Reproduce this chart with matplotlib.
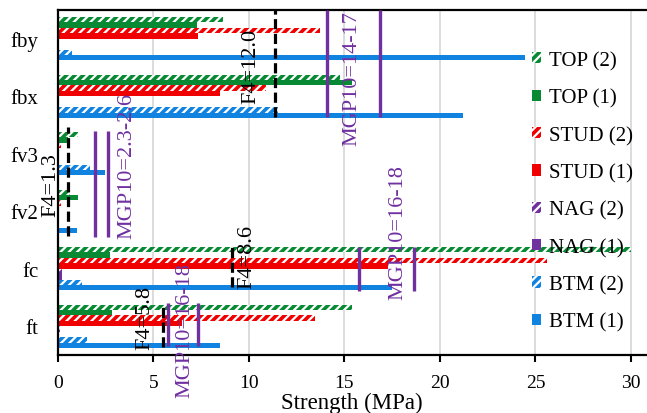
import numpy as np
import matplotlib
matplotlib.use("Agg")
import matplotlib.pyplot as plt

plt.rcParams['font.family'] = ['Liberation Serif', 'DejaVu Serif']
plt.rcParams['hatch.linewidth'] = 2.6

# ---------------- data ----------------
categories = ['ft', 'fc', 'fv2', 'fv3', 'fbx', 'fby']   # bottom -> top

btm1 = [8.49, 17.48, 1.02, 2.45, 21.2, 24.45]
btm2 = [1.52, 1.25, 0.0, 1.7, 11.53, 0.73]
nag1 = [0.0, 0.25, 0.0, 0.0, 0.0, 0.0]
nag2 = [0.1, 0.2, 0.0, 0.0, 0.0, 0.0]
stud1 = [6.49, 17.3, 0.0, 0.0, 8.47, 7.36]
stud2 = [13.46, 25.6, 0.15, 0.15, 10.9, 13.75]
top1 = [2.83, 2.74, 1.06, 0.55, 15.38, 7.27]
top2 = [15.38, 30.0, 0.65, 1.08, 14.77, 8.65]

series_labels = ['BTM (1)', 'BTM (2)', 'NAG (1)', 'NAG (2)',
                 'STUD (1)', 'STUD (2)', 'TOP (1)', 'TOP (2)']
series_values = [btm1, btm2, nag1, nag2, stud1, stud2, top1, top2]

# F4 reference lines (x value, y-span in category units, label, label position)
f4_x = [5.53, 9.1, 0.56, 11.39]
f4_span = [(-0.36, 0.39), (0.68, 1.38), (1.57, 3.46), (3.64, 5.5)]
f4_text = ['F4=5.8', 'F4=8.6', 'F4=1.3', 'F4=12.0']
f4_text_xy = [(4.57, 0.16), (9.9, 1.22), (-0.35, 2.47), (10.12, 4.53)]

# MGP10 ranges (two lines each)
mgp_x = [(5.79, 7.33), (15.78, 18.66), (1.95, 2.62), (14.08, 16.87)]
mgp_span = [(-0.34, 0.40), (0.61, 1.38), (1.55, 3.40), (3.64, 5.5)]
mgp_text = ['MGP10=16-18', 'MGP10=16-18', 'MGP10=2.3-2.6', 'MGP10=14-17']
mgp_text_xy = [(6.68, -0.05), (17.8, 1.64), (3.62, 2.80), (15.38, 4.33)]

xticks = [0, 5, 10, 15, 20, 25, 30]

# ---------------- style ----------------
BLUE = '#0F83DF'
PURPLE = '#7030A0'
RED = '#F00000'
GREEN = '#078A33'
colors = [BLUE, BLUE, PURPLE, PURPLE, RED, RED, GREEN, GREEN]
hatches = [None, '////', None, '////', None, '////', None, '////']

W, H = 647, 414
fig = plt.figure(figsize=(W / 100, H / 100), dpi=100)
left, right, top, bottom = 57.7, 646, 11, 356
ax = fig.add_axes([left / W, 1 - bottom / H, (right - left) / W, (bottom - top) / H])

group = 0.755
h = group / len(series_values)
ypos = np.arange(len(categories))
handles = []
for i, (vals, col, hat, lab) in enumerate(zip(series_values, colors, hatches, series_labels)):
    y = ypos - group / 2 + h * (i + 0.5)
    if hat:
        b = ax.barh(y, vals, height=h, color='white', edgecolor=col, linewidth=0,
                    hatch=hat, label=lab, zorder=2)
    else:
        b = ax.barh(y, vals, height=h, color=col, linewidth=0, label=lab, zorder=2)
    handles.append(b)

# reference lines
for x, (y0, y1) in zip(f4_x, f4_span):
    ax.plot([x, x], [y0, y1], color='black', lw=2.3, linestyle=(0, (3.2, 1.4)),
            zorder=4, clip_on=False)
for txt, (tx, ty) in zip(f4_text, f4_text_xy):
    ax.text(tx, ty, txt, rotation=90, ha='center', va='center', fontsize=16,
            color='black', zorder=5, clip_on=False)
for (xa, xb), (y0, y1) in zip(mgp_x, mgp_span):
    for x in (xa, xb):
        ax.plot([x, x], [y0, y1], color=PURPLE, lw=2.4, solid_capstyle='butt',
                zorder=4, clip_on=False)
for txt, (tx, ty) in zip(mgp_text, mgp_text_xy):
    ax.text(tx, ty, txt, rotation=90, ha='center', va='center', fontsize=16,
            color=PURPLE, zorder=5, clip_on=False)

ax.set_xlim(0, (right - left) / 19.11)
ax.set_ylim(-0.5, len(categories) - 0.5)
ax.set_xticks(xticks)
ax.set_xticklabels([str(t) for t in xticks], fontsize=14)
ax.set_yticks(ypos)
ax.set_yticklabels(categories, fontsize=15)
ax.tick_params(axis='y', length=0, pad=14)
ax.tick_params(axis='x', length=5, width=1.5, pad=9)
ax.grid(axis='x', color='#D9D9D9', lw=1.3, zorder=0)
ax.set_axisbelow(True)
for s in ['left', 'bottom', 'top']:
    ax.spines[s].set_linewidth(1.6)
    ax.spines[s].set_color('black')
ax.spines['right'].set_visible(False)
ax.set_xlabel('Strength (MPa)', fontsize=16.5, labelpad=0)

leg = ax.legend(handles[::-1], series_labels[::-1], loc='upper left',
                bbox_to_anchor=(532 / W, 1 - 52 / H), bbox_transform=fig.transFigure,
                frameon=False, fontsize=15, handlelength=0.45, handleheight=0.45,
                handletextpad=0.35, labelspacing=0.87, borderpad=0, borderaxespad=0)

fig.savefig('out.png', dpi=100)
